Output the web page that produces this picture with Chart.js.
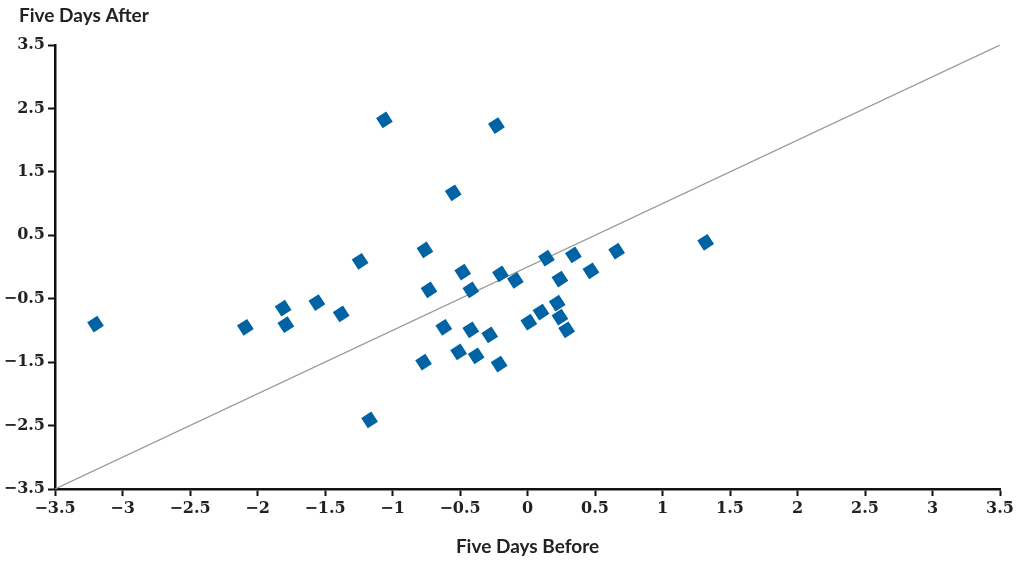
<!DOCTYPE html>
<html>
<head>
<meta charset="utf-8">
<script src="https://cdn.jsdelivr.net/npm/chart.js@4"></script>
<style>
    body { margin: 0; background: #fff; }
    canvas { display: block; }
</style>
</head>
<body>
<canvas id="myChart" width="1018" height="563"></canvas>
<script>
// values
const beforeVals = [-3.20, -2.09, -1.81, -1.79, -1.56, -1.38, -1.24, -1.17, -1.06, -0.77,
    -0.76, -0.73, -0.62, -0.55, -0.51, -0.48, -0.42, -0.42, -0.38, -0.28,
    -0.23, -0.21, -0.20, -0.09, 0.01, 0.10, 0.14, 0.22, 0.24, 0.24,
    0.29, 0.34, 0.47, 0.66, 1.32];
const afterVals = [-0.90, -0.95, -0.65, -0.91, -0.56, -0.74, 0.09, -2.41, 2.32, -1.50,
    0.27, -0.36, -0.95, 1.17, -1.34, -0.08, -0.36, -0.99, -1.40, -1.07,
    2.23, -1.53, -0.11, -0.21, -0.87, -0.71, 0.14, -0.57, -0.19, -0.79,
    -0.99, 0.19, -0.06, 0.25, 0.39];
const lineVals = [-3.5, 3.5];
const xTicks = [-3.5, -3, -2.5, -2, -1.5, -1, -0.5, 0, 0.5, 1, 1.5, 2, 2.5, 3, 3.5];
const yTicks = [-3.5, -2.5, -1.5, -0.5, 0.5, 1.5, 2.5, 3.5];

const tickFont = { family: 'DejaVu Serif', size: 16, weight: 'bold' };
const fmt = v => (v < 0 ? '\u2212' : '') + Math.abs(v);

const yTitle = {
    id: 'yTitle',
    afterDraw(chart) {
        const ctx = chart.ctx;
        ctx.save();
        ctx.font = 'bold 19px Lato';
        ctx.fillStyle = '#222';
        ctx.textBaseline = 'middle';
        ctx.fillText('Five Days After', 19, 16);
        ctx.restore();
    }
};

const ctx = document.getElementById('myChart').getContext('2d');
new Chart(ctx, {
    type: 'scatter',
    data: {
        datasets: [{
            data: beforeVals.map((x, i) => ({ x: x, y: afterVals[i] })),
            pointStyle: 'rectRot',
            pointRadius: 7.5,
            pointRotation: 12,
            backgroundColor: '#0063a4',
            borderColor: '#0063a4',
            borderWidth: 1.5
        }, {
            type: 'line',
            data: lineVals.map(v => ({ x: v, y: v })),
            borderColor: '#999',
            borderWidth: 1.2,
            pointRadius: 0,
            fill: false
        }]
    },
    options: {
        responsive: false,
        animation: false,
        layout: { padding: { left: 0, right: 18, top: 45, bottom: 0 } },
        plugins: {
            legend: { display: false },
            tooltip: { enabled: false }
        },
        scales: {
            x: {
                type: 'linear',
                min: -3.5,
                max: 3.5,
                afterBuildTicks: s => { s.ticks = xTicks.map(v => ({ value: v })); },
                afterFit: s => { s.height = 74; },
                grid: { drawOnChartArea: false, tickLength: 7, tickColor: '#111', tickWidth: 2 },
                border: { color: '#111', width: 2.5 },
                ticks: { font: tickFont, color: '#222', padding: 3, maxRotation: 0, callback: fmt },
                title: {
                    display: true,
                    text: 'Five Days Before',
                    font: { family: 'Lato', size: 19, weight: 'bold' },
                    color: '#222',
                    padding: { top: 0, bottom: 5 }
                }
            },
            y: {
                min: -3.5,
                max: 3.5,
                afterBuildTicks: s => { s.ticks = yTicks.map(v => ({ value: v })); },
                afterFit: s => { s.width = 55; },
                grid: { drawOnChartArea: false, tickLength: 7, tickColor: '#111', tickWidth: 2 },
                border: { color: '#111', width: 2.5 },
                ticks: { font: tickFont, color: '#222', padding: 3, callback: fmt }
            }
        }
    },
    plugins: [yTitle]
});
</script>
</body>
</html>
